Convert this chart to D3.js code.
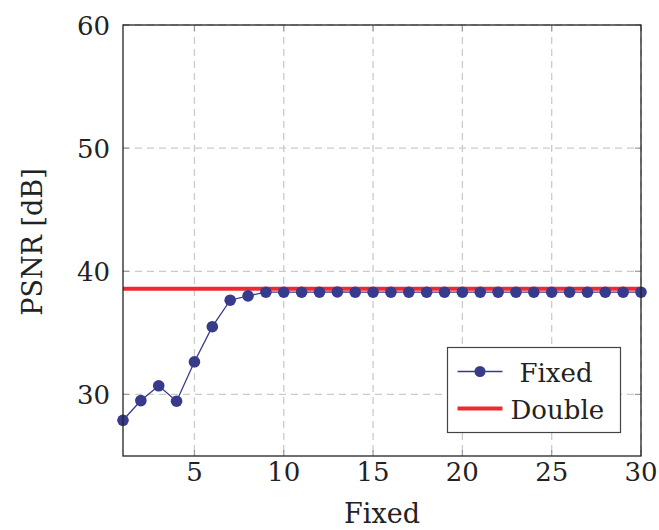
<!DOCTYPE html>
<html>
<head>
<meta charset="utf-8">
<script src="https://cdn.jsdelivr.net/npm/d3@7"></script>
<style>
  body { margin: 0; background: #fff; }
</style>
</head>
<body>
<svg id="chart"></svg>
<script>
// PSNR per fixed step vs. double-precision reference
var steps = d3.range(1, 31);
var fixedPsnr = [27.9, 29.5, 30.7, 29.45, 32.65, 35.5, 37.65, 38.0, 38.3, 38.3,
                 38.3, 38.3, 38.32, 38.3, 38.3, 38.3, 38.3, 38.3, 38.3, 38.3,
                 38.3, 38.3, 38.3, 38.3, 38.3, 38.3, 38.3, 38.3, 38.3, 38.3];
var doublePsnr = 38.58;
var xTicks = [5, 10, 15, 20, 25, 30];
var yTicks = [30, 40, 50, 60];

var serif = "DejaVu Serif";

var margin = {top: 25, right: 18, bottom: 74, left: 123},
  width = 659 - margin.left - margin.right,
  height = 530 - margin.top - margin.bottom;

var svg = d3.select("#chart")
  .attr("width", 659)
  .attr("height", 530)
  .append("g")
  .attr("transform", "translate(" + margin.left + "," + margin.top + ")");

var x = d3.scaleLinear().domain([1, 30]).range([0, width]);
var y = d3.scaleLinear().domain([25, 60]).range([height, 0]);

var blue = "#383a8c", red = "#ee2a30", grid = "#cbcbcb";

// dashed grid
svg.selectAll(".gx").data(xTicks).enter().append("line")
  .attr("x1", d => x(d)).attr("x2", d => x(d))
  .attr("y1", 0).attr("y2", height)
  .attr("stroke", grid).attr("stroke-width", 1.3).attr("stroke-dasharray", "7,5");
svg.selectAll(".gy").data(yTicks).enter().append("line")
  .attr("x1", 0).attr("x2", width)
  .attr("y1", d => y(d)).attr("y2", d => y(d))
  .attr("stroke", grid).attr("stroke-width", 1.3).attr("stroke-dasharray", "7,5");

// inner tick marks
var tl = 6;
xTicks.forEach(t => {
  svg.append("line").attr("x1", x(t)).attr("x2", x(t)).attr("y1", height).attr("y2", height - tl)
    .attr("stroke", "#999").attr("stroke-width", 1.2);
  svg.append("line").attr("x1", x(t)).attr("x2", x(t)).attr("y1", 0).attr("y2", tl)
    .attr("stroke", "#999").attr("stroke-width", 1.2);
});
yTicks.forEach(t => {
  svg.append("line").attr("x1", 0).attr("x2", tl).attr("y1", y(t)).attr("y2", y(t))
    .attr("stroke", "#999").attr("stroke-width", 1.2);
  svg.append("line").attr("x1", width).attr("x2", width - tl).attr("y1", y(t)).attr("y2", y(t))
    .attr("stroke", "#999").attr("stroke-width", 1.2);
});

function label(sel, size) {
  return sel.style("font-family", serif)
    .attr("fill", "#222").style("font-size", size + "px");
}

// tick labels
label(svg.selectAll(".xl").data(xTicks).enter().append("text"), 26)
  .attr("x", d => x(d)).attr("y", height + 25)
  .attr("text-anchor", "middle")
  .text(d => d);
label(svg.selectAll(".yl").data(yTicks).enter().append("text"), 26)
  .attr("x", -13).attr("y", d => y(d) + 10)
  .attr("text-anchor", "end")
  .text(d => d);

// double reference line
svg.append("line")
  .attr("x1", 0).attr("x2", width)
  .attr("y1", y(doublePsnr)).attr("y2", y(doublePsnr))
  .attr("stroke", red).attr("stroke-width", 4);

// fixed series
var line = d3.line().x((d, i) => x(steps[i])).y(d => y(d));
svg.append("path")
  .datum(fixedPsnr)
  .attr("d", line)
  .attr("fill", "none")
  .attr("stroke", blue)
  .attr("stroke-width", 1.3);
svg.selectAll(".pt").data(fixedPsnr).enter().append("circle")
  .attr("cx", (d, i) => x(steps[i]))
  .attr("cy", d => y(d))
  .attr("r", 5.8)
  .attr("fill", blue);

// frame
svg.append("rect")
  .attr("width", width).attr("height", height)
  .attr("fill", "none").attr("stroke", "#222").attr("stroke-width", 1.3);

// axis titles
label(svg.append("text"), 27)
  .attr("x", width / 2).attr("y", height + 67)
  .attr("text-anchor", "middle")
  .text("Fixed");
label(svg.append("text"), 27)
  .attr("transform", "rotate(-90)")
  .attr("x", -217).attr("y", -81)
  .attr("text-anchor", "middle")
  .text("PSNR [dB]");

// legend
var lg = svg.append("g").attr("transform", "translate(" + (447.5 - margin.left) + "," + (347.5 - margin.top) + ")");
lg.append("rect").attr("width", 173).attr("height", 85)
  .attr("fill", "#fff").attr("stroke", "#444").attr("stroke-width", 1.2);
lg.append("line").attr("x1", 10).attr("x2", 55).attr("y1", 24).attr("y2", 24)
  .attr("stroke", blue).attr("stroke-width", 1.3);
lg.append("circle").attr("cx", 32.5).attr("cy", 24).attr("r", 5.5).attr("fill", blue);
label(lg.append("text"), 26).attr("x", 72).attr("y", 34).text("Fixed");
lg.append("line").attr("x1", 10).attr("x2", 55).attr("y1", 61).attr("y2", 61)
  .attr("stroke", red).attr("stroke-width", 4);
label(lg.append("text"), 26).attr("x", 63).attr("y", 71).text("Double");
</script>
</body>
</html>
